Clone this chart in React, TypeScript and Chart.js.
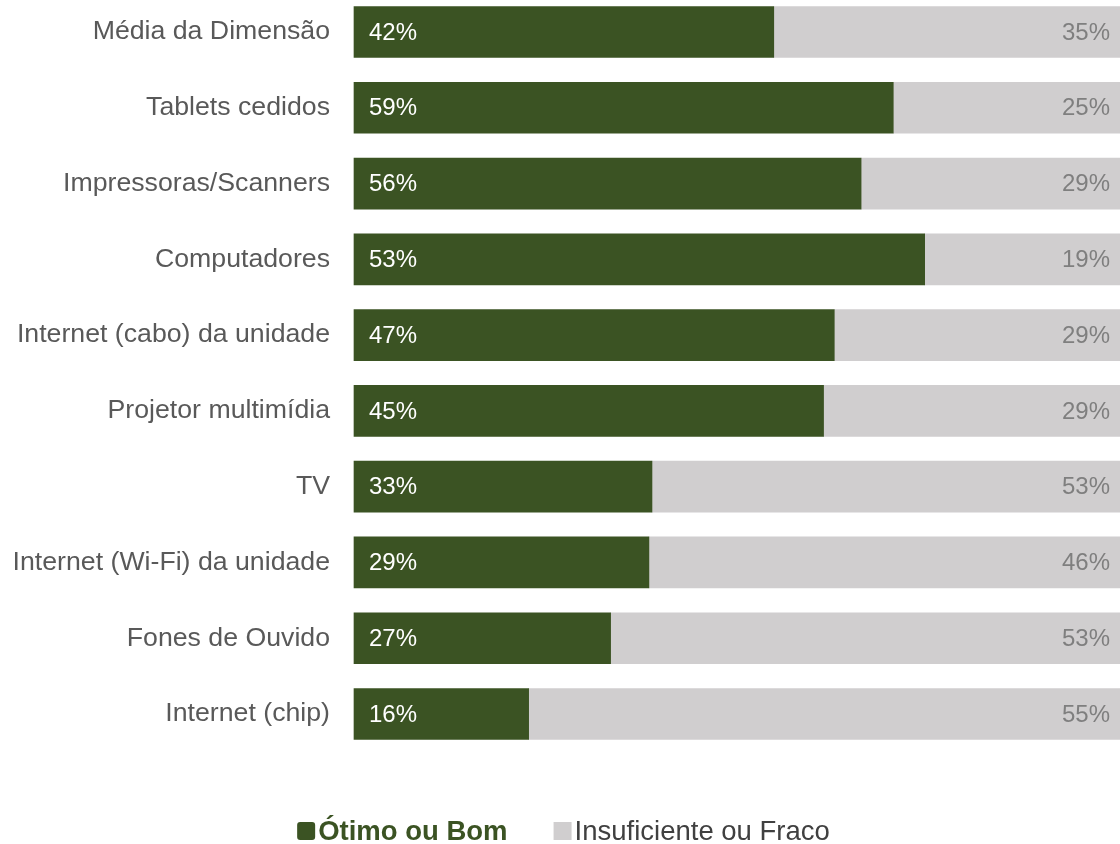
import React, { useEffect, useRef } from "react";
import { Chart, registerables } from "chart.js";

Chart.register(...registerables);

const categories = [
  "Média da Dimensão",
  "Tablets cedidos",
  "Impressoras/Scanners",
  "Computadores",
  "Internet (cabo) da unidade",
  "Projetor multimídia",
  "TV",
  "Internet (Wi-Fi) da unidade",
  "Fones de Ouvido",
  "Internet (chip)",
];

// bar lengths as drawn (share of full width)
const goodBarLength = [54.8, 70.4, 66.2, 74.5, 62.7, 61.3, 38.9, 38.5, 33.5, 22.8];
const poorBarLength = goodBarLength.map((v) => 100 - v);

// printed labels
const goodLabels = ["42%", "59%", "56%", "53%", "47%", "45%", "33%", "29%", "27%", "16%"];
const poorLabels = ["35%", "25%", "29%", "19%", "29%", "29%", "53%", "46%", "53%", "55%"];

const seriesNames = ["Ótimo ou Bom", "Insuficiente ou Fraco"];

const GREEN = "#3B5323";
const GRAY = "#D0CECF";
const FONT = "'Liberation Sans', Arial, sans-serif";

export default function App() {
  const ref = useRef<HTMLCanvasElement | null>(null);

  useEffect(() => {
    if (!ref.current) return;

    const labelPlugin = {
      id: "valueLabels",
      afterDatasetsDraw(chart: any) {
        const ctx = chart.ctx;
        const m0 = chart.getDatasetMeta(0);
        const area = chart.chartArea;
        ctx.save();
        ctx.font = `24px ${FONT}`;
        ctx.textBaseline = "middle";
        m0.data.forEach((bar: any, i: number) => {
          ctx.fillStyle = "#FFFFFF";
          ctx.textAlign = "left";
          ctx.fillText(goodLabels[i], area.left + 15, bar.y + 1);
          ctx.fillStyle = "#7F7F7F";
          ctx.textAlign = "right";
          ctx.fillText(poorLabels[i], area.right - 10, bar.y + 1);
        });
        ctx.restore();
      },
    };

    const legendPlugin = {
      id: "customLegend",
      afterDraw(chart: any) {
        const ctx = chart.ctx;
        ctx.save();
        const y = 831;
        const sq = 18;
        const gapSq = 3;
        const gapItems = 46;
        ctx.font = `bold 27.5px ${FONT}`;
        const w1 = ctx.measureText(seriesNames[0]).width;
        ctx.font = `27.5px ${FONT}`;
        const w2 = ctx.measureText(seriesNames[1]).width;
        const total = sq + gapSq + w1 + gapItems + sq + gapSq + w2;
        let x = 563.5 - total / 2;
        ctx.fillStyle = GREEN;
        ctx.beginPath();
        (ctx as any).roundRect(x, y - sq / 2, sq, sq, 3);
        ctx.fill();
        x += sq + gapSq;
        ctx.font = `bold 27.5px ${FONT}`;
        ctx.textBaseline = "middle";
        ctx.textAlign = "left";
        ctx.fillText(seriesNames[0], x, y + 1);
        x += w1 + gapItems;
        ctx.fillStyle = GRAY;
        ctx.fillRect(x, y - sq / 2, sq, sq);
        x += sq + gapSq;
        ctx.fillStyle = "#404040";
        ctx.font = `27.5px ${FONT}`;
        ctx.fillText(seriesNames[1], x, y + 1);
        ctx.restore();
      },
    };

    const chart = new Chart(ref.current, {
      type: "bar",
      data: {
        labels: categories,
        datasets: [
          {
            label: seriesNames[0],
            data: goodBarLength,
            backgroundColor: GREEN,
            barThickness: 51,
            clip: false as any,
            borderWidth: 0,
          },
          {
            label: seriesNames[1],
            data: poorBarLength,
            backgroundColor: GRAY,
            barThickness: 51,
            clip: false as any,
            borderWidth: 0,
          },
        ],
      },
      options: {
        indexAxis: "y",
        animation: false,
        responsive: true,
        maintainAspectRatio: false,
        layout: { padding: { top: 32, bottom: 130, left: 0, right: 0 } },
        plugins: {
          legend: { display: false },
          tooltip: { enabled: false },
        },
        scales: {
          x: {
            stacked: true,
            min: 0,
            max: 100,
            display: false,
          },
          y: {
            stacked: true,
            offset: false,
            grid: { display: false, drawTicks: true, tickLength: 24 },
            border: { display: false },
            ticks: {
              padding: 0,
              color: "#595959",
              font: { family: FONT, size: 26.7 },
            },
            afterFit(scale: any) {
              scale.width = 354;
            },
          },
        },
      },
      plugins: [labelPlugin, legendPlugin],
    });

    return () => chart.destroy();
  }, []);

  return (
    <div style={{ position: "absolute", left: 0, top: 0, width: 1120, height: 844 }}>
      <canvas ref={ref} />
    </div>
  );
}
